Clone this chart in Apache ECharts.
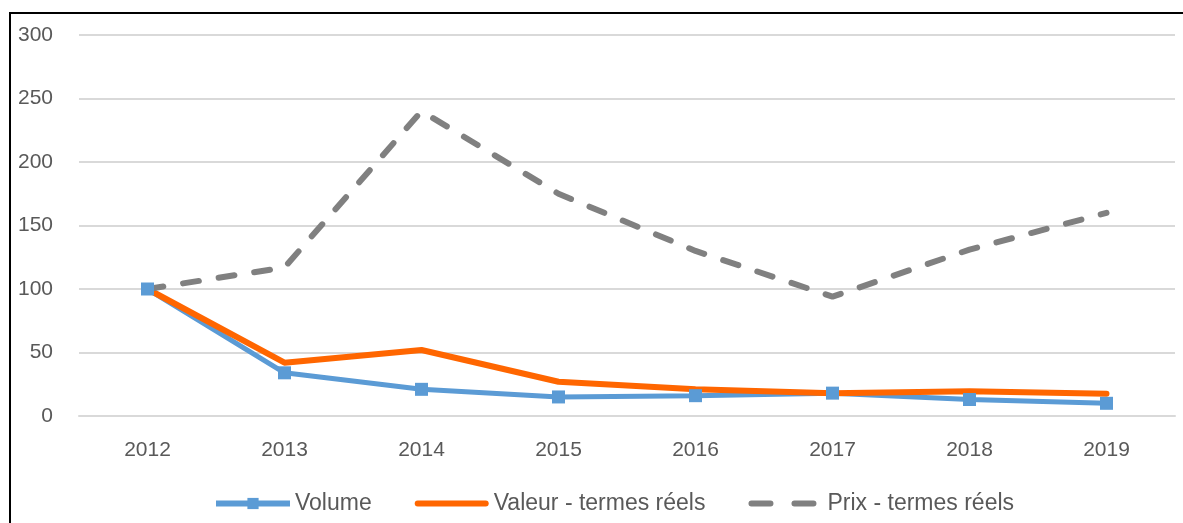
<!DOCTYPE html>
<html>
<head>
<meta charset="utf-8">
<script src="https://cdn.jsdelivr.net/npm/echarts@6/dist/echarts.min.js"></script>
<style>
  html, body { margin: 0; padding: 0; background: #fff; }
  #chart { width: 1183px; height: 523px; }
</style>
</head>
<body>
<div id="chart"></div>
<script>
// années
var years = ['2012', '2013', '2014', '2015', '2016', '2017', '2018', '2019']
// indices (base 100 en 2012)
var volume = [100, 34, 21, 15, 16, 18, 13, 10]
var valeur = [100, 42, 52, 27, 21, 18, 19.5, 17.5]
var prix = [100, 117, 240, 175, 130, 94, 131, 160]
var seriesNames = ['Volume', 'Valeur - termes réels', 'Prix - termes réels']

var textColor = '#595959'
var font = 'Liberation Sans'

var chart = echarts.init(document.getElementById('chart'))
chart.setOption({
  animation: false,
  backgroundColor: '#fff',
  textStyle: { fontFamily: font },
  graphic: [{
    type: 'rect',
    shape: { x: 10, y: 13, width: 1300, height: 700 },
    style: { fill: 'none', stroke: '#000', lineWidth: 2 },
    silent: true
  }],
  grid: { left: 79, right: 8, top: 35, bottom: 107 },
  legend: {
    bottom: 3,
    left: 208,
    itemWidth: 74,
    itemHeight: 14,
    itemGap: 43,
    textStyle: { color: textColor, fontSize: 23, fontFamily: font },
    data: [
      { name: seriesNames[0], lineStyle: { width: 6 } },
      // trait plein
      { name: seriesNames[1], icon: 'path://M0,0M74,14M3,4h68a3,3 0 0 1 0,6h-68a3,3 0 0 1 0,-6z' },
      // deux tirets arrondis
      { name: seriesNames[2], icon: 'path://M0,0M74,14M3,4h19a3,3 0 0 1 0,6h-19a3,3 0 0 1 0,-6zM46,4h19a3,3 0 0 1 0,6h-19a3,3 0 0 1 0,-6z' }
    ]
  },
  xAxis: {
    type: 'category',
    data: years,
    boundaryGap: true,
    axisLine: { show: true, lineStyle: { color: '#d9d9d9', width: 2 } },
    axisTick: { show: false },
    axisLabel: { color: textColor, fontSize: 21, margin: 24 }
  },
  yAxis: {
    type: 'value',
    min: 0,
    max: 300,
    interval: 50,
    axisLine: { show: false },
    axisTick: { show: false },
    axisLabel: { color: textColor, fontSize: 21, margin: 26 },
    splitLine: { lineStyle: { color: '#d9d9d9', width: 2 } }
  },
  series: [
    {
      name: seriesNames[0],
      type: 'line',
      data: volume,
      symbol: 'rect',
      symbolSize: 13,
      itemStyle: { color: '#5b9bd5' },
      lineStyle: { color: '#5b9bd5', width: 5 }
    },
    {
      name: seriesNames[1],
      type: 'line',
      data: valeur,
      symbol: 'none',
      itemStyle: { color: '#ff6600' },
      lineStyle: { color: '#ff6600', width: 6, cap: 'round', join: 'round' }
    },
    {
      name: seriesNames[2],
      type: 'line',
      data: prix,
      symbol: 'none',
      itemStyle: { color: '#808080' },
      lineStyle: { color: '#808080', width: 6, type: [16, 20], cap: 'round', join: 'round' }
    }
  ]
})
</script>
</body>
</html>
